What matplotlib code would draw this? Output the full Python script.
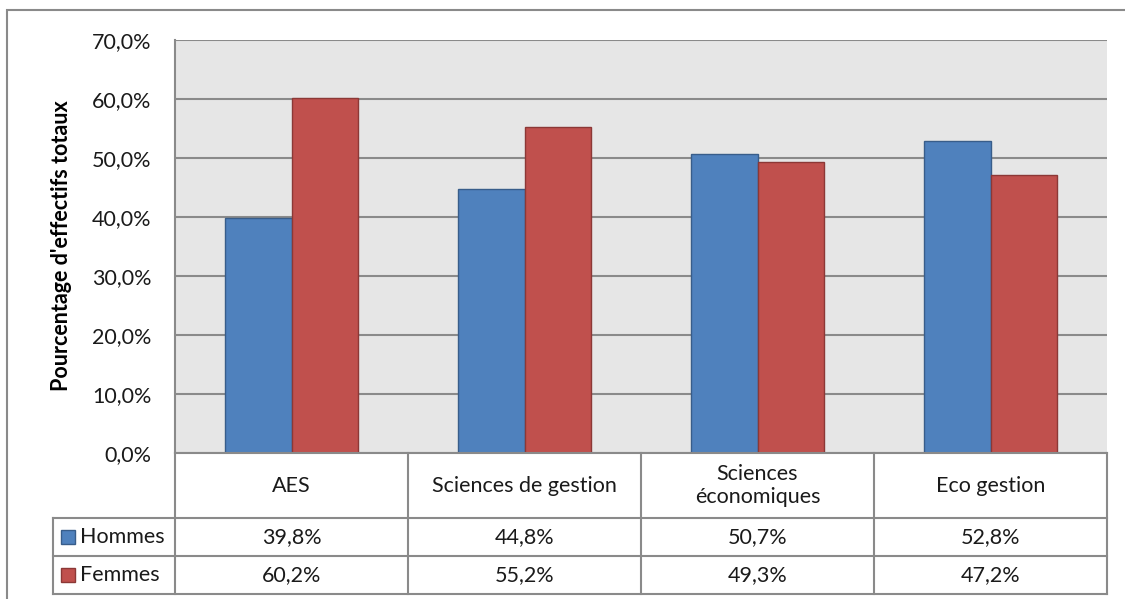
import matplotlib.pyplot as plt
from matplotlib.patches import Rectangle
from matplotlib.lines import Line2D

categories = ["AES", "Sciences de gestion", "Sciences\néconomiques", "Eco gestion"]
hommes = [39.8, 44.8, 50.7, 52.8]
femmes = [60.2, 55.2, 49.3, 47.2]
series_names = ["Hommes", "Femmes"]
yticks = [0, 10, 20, 30, 40, 50, 60, 70]

W, H = 1125, 599
blue, blue_edge = "#4F81BD", "#385D8A"
red, red_edge = "#C0504D", "#8C3836"
line_col = "#8A8A8A"
font = "Lato"
fs = 15.5


def fx(px):
    return px / W


def fy(py):
    return 1 - py / H


fig = plt.figure(figsize=(W / 100, H / 100), dpi=100)
fig.patch.set_facecolor("white")

# outer chart border (right/bottom fall outside the picture)
fig.add_artist(Rectangle((fx(7), fy(640)), fx(1200), fy(10) - fy(640),
                         transform=fig.transFigure, fill=False,
                         edgecolor="#8A8A8A", linewidth=1.5))

left, right, top, bottom = 175, 1107, 40, 453
ax = fig.add_axes([fx(left), fy(bottom), fx(right) - fx(left), fy(top) - fy(bottom)])
ax.set_facecolor("#E6E6E6")

width = 1 / 3.5
x = list(range(len(categories)))
ax.bar([i - width / 2 for i in x], hommes, width, color=blue, edgecolor=blue_edge,
       linewidth=1, zorder=3)
ax.bar([i + width / 2 for i in x], femmes, width, color=red, edgecolor=red_edge,
       linewidth=1, zorder=3)

ax.set_xlim(-0.5, len(categories) - 0.5)
ax.set_ylim(0, 70)
ax.set_yticks(yticks)
ax.set_yticklabels([f"{v:.1f}%".replace(".", ",") for v in yticks],
                   fontsize=fs, family=font, color="#1A1A1A")
ax.set_xticks([])
ax.tick_params(axis="y", length=0, pad=17)
ax.yaxis.grid(True, color=line_col, linewidth=1.5, zorder=1)
ax.set_axisbelow(True)
for s in ["top", "right", "bottom"]:
    ax.spines[s].set_visible(False)
ax.spines["left"].set_color(line_col)
ax.spines["left"].set_linewidth(1.5)

fig.text(fx(62), fy(246), "Pourcentage d'effectifs totaux", rotation=90,
         ha="center", va="center", fontsize=fs, fontweight="bold", family=font)

# data table
cols = [175, 408, 641, 874, 1107]
rows = [453, 518, 556, 594]
lw = 1.5


def hline(y, x0, x1):
    fig.add_artist(Line2D([fx(x0), fx(x1)], [fy(y), fy(y)], transform=fig.transFigure,
                          color=line_col, linewidth=lw))


def vline(xp, y0, y1):
    fig.add_artist(Line2D([fx(xp), fx(xp)], [fy(y0), fy(y1)], transform=fig.transFigure,
                          color=line_col, linewidth=lw))


hline(rows[0], cols[0], cols[-1])
for r in rows[1:]:
    hline(r, 53, cols[-1])
for c in cols:
    vline(c, rows[0], rows[-1])
vline(53, rows[1], rows[-1])

for i, cat in enumerate(categories):
    cx = (cols[i] + cols[i + 1]) / 2
    fig.text(fx(cx), fy((rows[0] + rows[1]) / 2), cat, ha="center", va="center",
             fontsize=fs, family=font, color="#1A1A1A", linespacing=1.15)
    for j, vals in enumerate([hommes, femmes]):
        cy = (rows[j + 1] + rows[j + 2]) / 2
        fig.text(fx(cx), fy(cy), f"{vals[i]:.1f}%".replace(".", ","), ha="center",
                 va="center", fontsize=fs, family=font, color="#1A1A1A")

for j, (name, fc, ec) in enumerate([(series_names[0], blue, blue_edge),
                                     (series_names[1], red, red_edge)]):
    cy = (rows[j + 1] + rows[j + 2]) / 2
    fig.add_artist(Rectangle((fx(61), fy(cy + 7)), fx(14), fy(cy - 7) - fy(cy + 7),
                             transform=fig.transFigure, facecolor=fc, edgecolor=ec,
                             linewidth=1))
    fig.text(fx(80), fy(cy), name, ha="left", va="center", fontsize=fs, family=font,
             color="#1A1A1A")

fig.savefig("out.png", dpi=100)
